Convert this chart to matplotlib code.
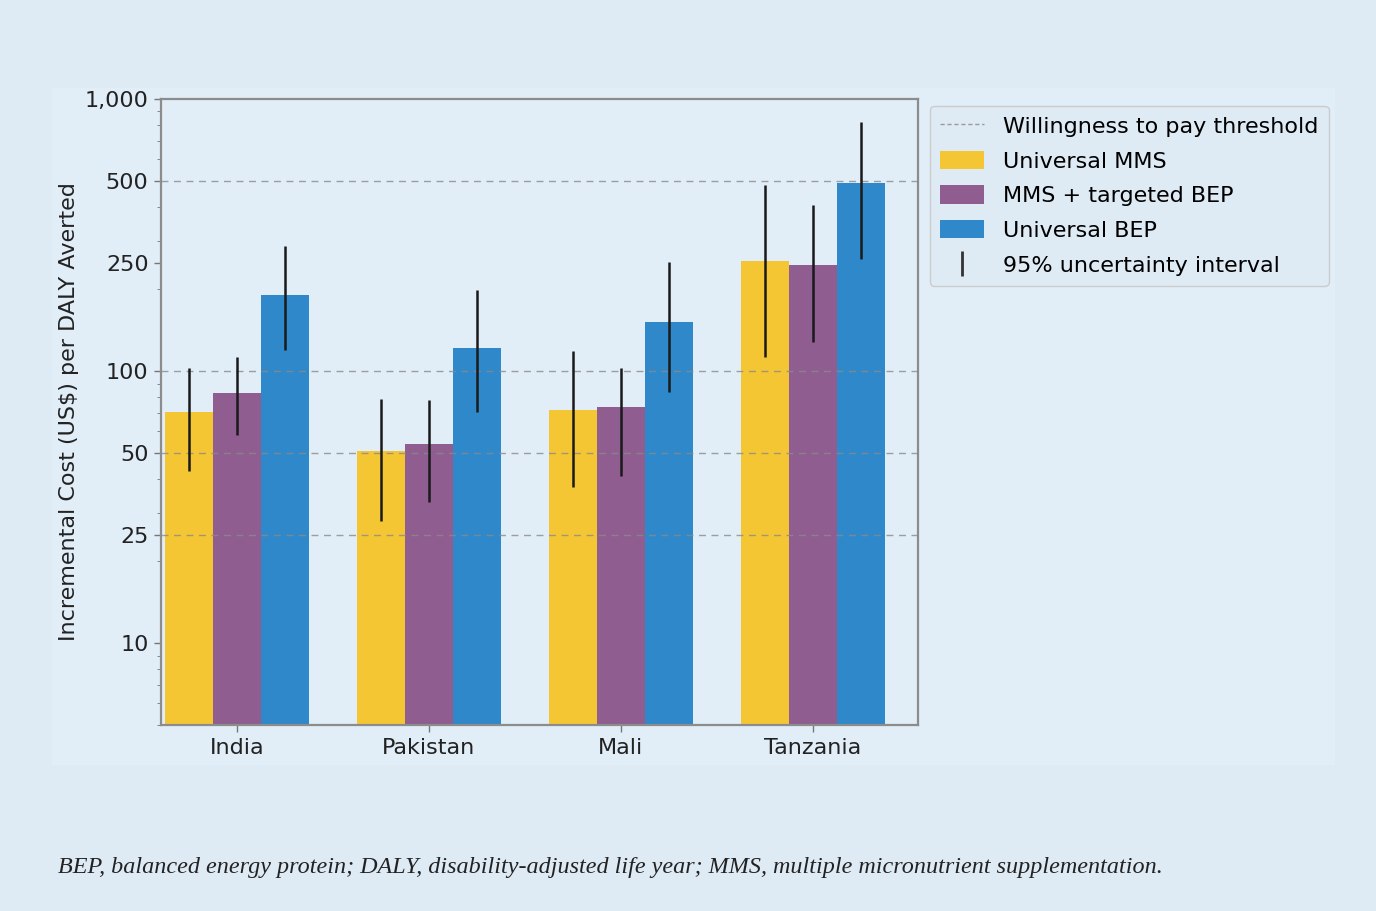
import matplotlib
matplotlib.use("Agg")
import matplotlib.pyplot as plt
from matplotlib.lines import Line2D
from matplotlib.patches import Patch, Rectangle
from matplotlib.ticker import FixedLocator, FuncFormatter, LogLocator, NullFormatter
import numpy as np

countries = ["India", "Pakistan", "Mali", "Tanzania"]
series = ["Universal MMS", "MMS + targeted BEP", "Universal BEP"]
colors = ["#f5c633", "#8f5d8f", "#2e88c9"]

# cost per DALY averted (US$) and 95% uncertainty bounds
values = {
    "Universal MMS":      [71, 51, 72, 254],
    "MMS + targeted BEP": [83, 54, 74, 246],
    "Universal BEP":      [190, 122, 151, 491],
}
lower = {
    "Universal MMS":      [43, 28, 37.5, 113],
    "MMS + targeted BEP": [58, 33, 41, 128],
    "Universal BEP":      [120, 71, 84, 258],
}
upper = {
    "Universal MMS":      [103, 79, 118, 483],
    "MMS + targeted BEP": [113, 78, 103, 407],
    "Universal BEP":      [288, 198, 252, 822],
}
thresholds = [25, 50, 100, 500]
yticks = [10, 25, 50, 100, 250, 500, 1000]

bg = "#deeaf4"
fig = plt.figure(figsize=(13.76, 9.11), dpi=100, facecolor=bg)
panel = Rectangle((52 / 1376, 1 - 765 / 911), (1335 - 52) / 1376, (765 - 88) / 911,
                  transform=fig.transFigure, facecolor="#e1edf7", edgecolor="none", zorder=-5)
fig.patches.append(panel)

ax = fig.add_axes([161 / 1376, 1 - 725 / 911, (918 - 161) / 1376, (725 - 99) / 911])
ax.set_facecolor("none")

x = np.arange(len(countries))
width = 0.25
for i, (name, col) in enumerate(zip(series, colors)):
    v = np.array(values[name])
    err = [v - np.array(lower[name]), np.array(upper[name]) - v]
    ax.bar(x + (i - 1) * width, v, width, color=col, zorder=2)
    ax.errorbar(x + (i - 1) * width, v, yerr=err, fmt="none", ecolor="#1a1a1a",
                elinewidth=1.8, capsize=0, zorder=4)

for t in thresholds:
    ax.axhline(t, color="#8a8a8a", linestyle=(0, (5, 4)), linewidth=1.0, alpha=0.8, zorder=3)

ax.set_yscale("log")
ax.set_ylim(5, 1000)
ax.set_xlim(-0.395, 3.547)
ax.yaxis.set_major_locator(FixedLocator(yticks))
ax.yaxis.set_major_formatter(FuncFormatter(lambda v, p: f"{int(v):,}"))
ax.yaxis.set_minor_locator(LogLocator(base=10, subs=np.arange(2, 10)))
ax.yaxis.set_minor_formatter(NullFormatter())
ax.set_xticks(x)
ax.set_xticklabels(countries)
ax.tick_params(axis="both", labelsize=16, length=5, width=1, pad=4, color="#777777", labelcolor="#222222")
ax.tick_params(axis="y", which="minor", length=3, color="#777777")
for s in ax.spines.values():
    s.set_color("#8c8c8c")
    s.set_linewidth(1.6)
ax.set_ylabel("Incremental Cost (US$) per DALY Averted", fontsize=16, color="#222222", labelpad=4)

handles = [Line2D([], [], color="#9a9a9a", linestyle=(0, (3, 2)), linewidth=1.0)]
handles += [Patch(facecolor=c) for c in colors]
handles += [Line2D([], [], color="#333333", marker="|", markersize=18, markeredgewidth=2, linestyle="none")]
labels = ["Willingness to pay threshold"] + series + ["95% uncertainty interval"]
fig.legend(handles, labels, loc="upper left", bbox_to_anchor=(930 / 1376, 1 - 106 / 911),
           borderaxespad=0, fontsize=16, frameon=True, facecolor=bg, edgecolor="#cccccc",
           framealpha=1, handlelength=2.0, handleheight=0.9, labelspacing=0.62, borderpad=0.45,
           handletextpad=0.85)

fig.text(58 / 1376, 1 - 868 / 911, "BEP, balanced energy protein; DALY, disability-adjusted life year; "
         "MMS, multiple micronutrient supplementation.", fontsize=17.4, style="italic",
         family="Liberation Serif", color="#222222", va="center", ha="left")

fig.savefig("out.png", dpi=100, facecolor=bg)
